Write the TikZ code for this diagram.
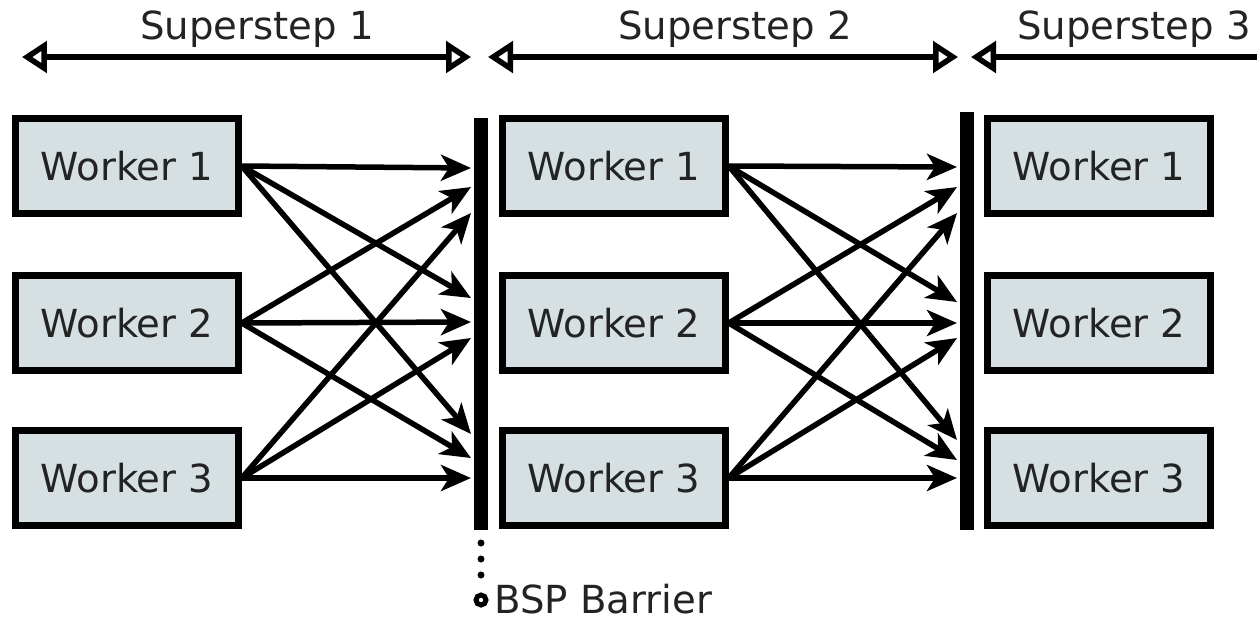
\documentclass[tikz,border=0pt]{standalone}
\usepackage{fontspec}
\setmainfont{DejaVu Sans}
\usetikzlibrary{arrows.meta}
\definecolor{boxfill}{RGB}{214,224,226}
\definecolor{txt}{RGB}{35,35,35}
\begin{document}
\begin{tikzpicture}[x=0.02cm,y=-0.02cm,
  worker/.style={draw=black, fill=boxfill, line width=0.13cm, minimum width=4.46cm,
    minimum height=1.9cm, inner sep=0pt, font=\fontsize{22}{24}\selectfont, text=txt},
  barrier/.style={fill=black, minimum width=0.29cm, inner sep=0pt},
  msg/.style={line width=0.11cm, -{Stealth[length=0.6cm,width=0.52cm,inset=0.16cm]}},
  tri/.tip={Triangle[open,length=0.5cm,width=0.62cm]},
  span/.style={line width=0.11cm, tri-tri},
  spanl/.style={line width=0.11cm, tri-},
  lbl/.style={font=\fontsize{22}{24}\selectfont, text=txt, inner sep=0pt}]
\useasboundingbox (0,0) rectangle (1257,620);

% workers
\foreach \c/\x in {1/127, 2/614, 3/1099}{
  \foreach \r/\y in {1/166, 2/323, 3/478}{
    \node[worker] (w\c\r) at (\x,\y) {Worker \r};
  }
}

% barriers
\node[barrier, minimum height=8.24cm] (b1) at (481,324) {};
\node[barrier, minimum height=8.36cm] (b2) at (967,321) {};

% superstep spans
\coordinate (s1l) at (22,57);  \coordinate (s1r) at (471,57);
\coordinate (s2l) at (488,57); \coordinate (s2r) at (958,57);
\coordinate (s3l) at (971,57); \coordinate (s3r) at (1257,57);
\draw[span] (s1l) -- (s1r);
\draw[span] (s2l) -- (s2r);
\draw[spanl] (s3l) -- (s3r);
\node[lbl] (l1) at (257,29) {Superstep 1};
\node[lbl] (l2) at (735,29) {Superstep 2};
\node[lbl] (l3) at (1134,29) {Superstep 3};

% messages, superstep 1
\foreach \s/\ya/\yb/\yc in {1/168/298/434, 2/187/322/458, 3/213/338/478}{
  \coordinate (p\s a) at (471,\ya);
  \coordinate (p\s b) at (471,\yb);
  \coordinate (p\s c) at (471,\yc);
  \draw[msg] (w1\s.east) -- (p\s a);
  \draw[msg] (w1\s.east) -- (p\s b);
  \draw[msg] (w1\s.east) -- (p\s c);
}
% messages, superstep 2
\foreach \s/\ya/\yb/\yc in {1/167/302/440, 2/187/323/460, 3/213/338/478}{
  \coordinate (q\s a) at (957,\ya);
  \coordinate (q\s b) at (957,\yb);
  \coordinate (q\s c) at (957,\yc);
  \draw[msg] (w2\s.east) -- (q\s a);
  \draw[msg] (w2\s.east) -- (q\s b);
  \draw[msg] (w2\s.east) -- (q\s c);
}

% BSP barrier label
\coordinate (bb) at (481,527);
\node[circle, draw=black, line width=0.1cm, inner sep=0pt, minimum size=0.2cm, fill=white] (bc) at (481,600) {};
\draw[line width=0.14cm, line cap=round, dash pattern=on 0pt off 0.32cm] ([yshift=-0.32cm]bb) -- ([yshift=0.3cm]bc.north);
\node[lbl, anchor=base west, text depth=0pt] (bl) at (494,613) {BSP Barrier};
\end{tikzpicture}
\end{document}
